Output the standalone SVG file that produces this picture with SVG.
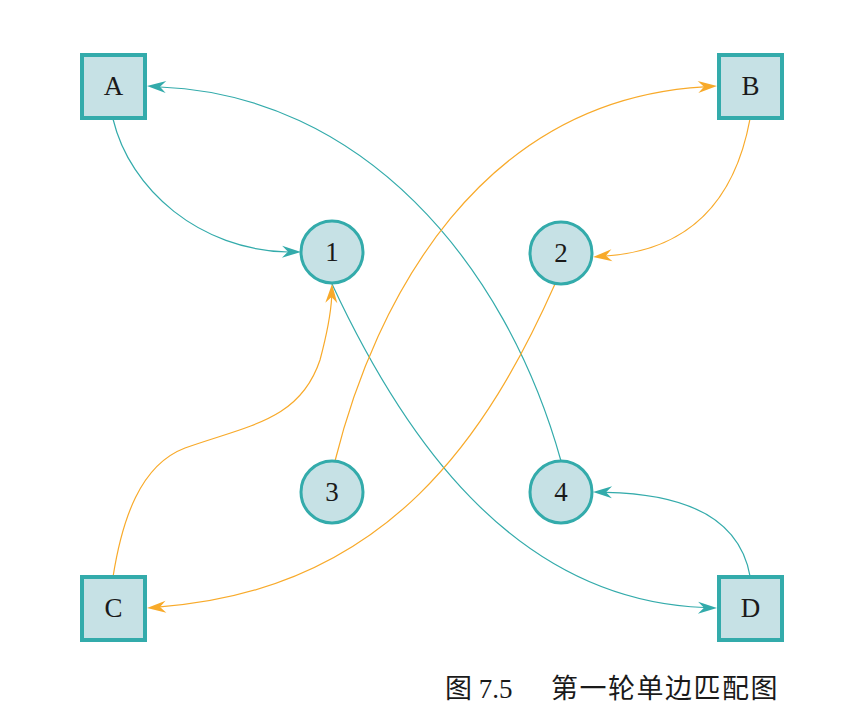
<svg xmlns="http://www.w3.org/2000/svg" width="850" height="724" viewBox="0 0 850 724">
<style>
.box{fill:#c6e1e5;stroke:#33abab;stroke-width:4}
.circ{fill:#c6e1e5;stroke:#33abab;stroke-width:3}
.lbl{font-family:"Liberation Serif","Times New Roman",serif;font-size:27px;fill:#1a1a1a;text-anchor:middle}
.t{fill:none;stroke:#33abab;stroke-width:1.2}
.o{fill:none;stroke:#f8aa2a;stroke-width:1.2}
.cap{font-family:"Liberation Serif","Noto Sans CJK SC",serif;font-size:27px;fill:#1a1a1a}
.aht{fill:#33abab}
.aho{fill:#f8aa2a}
</style>
<defs>
<path id="ah" d="M0,0 L-19,-6 L-13,0 L-19,6 z"/>
</defs>
<g id="edges">
<path class="t" d="M113,119 C130,190 200,250 288,252"/>
<use href="#ah" class="aht" transform="translate(301,252) rotate(1)"/>
<path class="t" d="M561,461 C505,260 360,95 160,87"/>
<use href="#ah" class="aht" transform="translate(147,86) rotate(183)"/>
<path class="t" d="M332,284 C400,430 510,600 704,607.5"/>
<use href="#ah" class="aht" transform="translate(717,608) rotate(1)"/>
<path class="t" d="M750,576 C740,520 690,494 606,492.3"/>
<use href="#ah" class="aht" transform="translate(593,492) rotate(181)"/>
<path class="o" d="M335,461 C375,300 480,100 704,86.8"/>
<use href="#ah" class="aho" transform="translate(717,86) rotate(-3)"/>
<path class="o" d="M750,119 C735,200 690,250 606,256"/>
<use href="#ah" class="aho" transform="translate(593,257) rotate(175)"/>
<path class="o" d="M555,284 C490,430 390,590 160,606.8"/>
<use href="#ah" class="aho" transform="translate(147,608) rotate(176)"/>
<path class="o" d="M113,577 C122,520 140,465 185,448 C250,425 300,420 320,360 C328,330 331,310 331.7,297"/>
<use href="#ah" class="aho" transform="translate(332,284) rotate(-88)"/>
</g>
<g id="A"><rect class="box" x="82" y="55" width="63" height="63"/><text class="lbl" x="113.5" y="95">A</text></g>
<g id="B"><rect class="box" x="719" y="55" width="63" height="63"/><text class="lbl" x="750.5" y="95">B</text></g>
<g id="C"><rect class="box" x="82" y="577" width="63" height="63"/><text class="lbl" x="113.5" y="617">C</text></g>
<g id="D"><rect class="box" x="719" y="577" width="63" height="63"/><text class="lbl" x="750.5" y="617">D</text></g>
<g id="n1"><circle class="circ" cx="332" cy="252" r="31"/><text class="lbl" x="332" y="261">1</text></g>
<g id="n2"><circle class="circ" cx="561" cy="253" r="31"/><text class="lbl" x="561" y="262">2</text></g>
<g id="n3"><circle class="circ" cx="332" cy="492" r="31"/><text class="lbl" x="332" y="501">3</text></g>
<g id="n4"><circle class="circ" cx="561" cy="492" r="31"/><text class="lbl" x="561" y="501">4</text></g>
<text class="cap" y="698"><tspan x="445">图 7.5</tspan><tspan x="551" letter-spacing="1.5">第一轮单边匹配图</tspan></text>
</svg>
